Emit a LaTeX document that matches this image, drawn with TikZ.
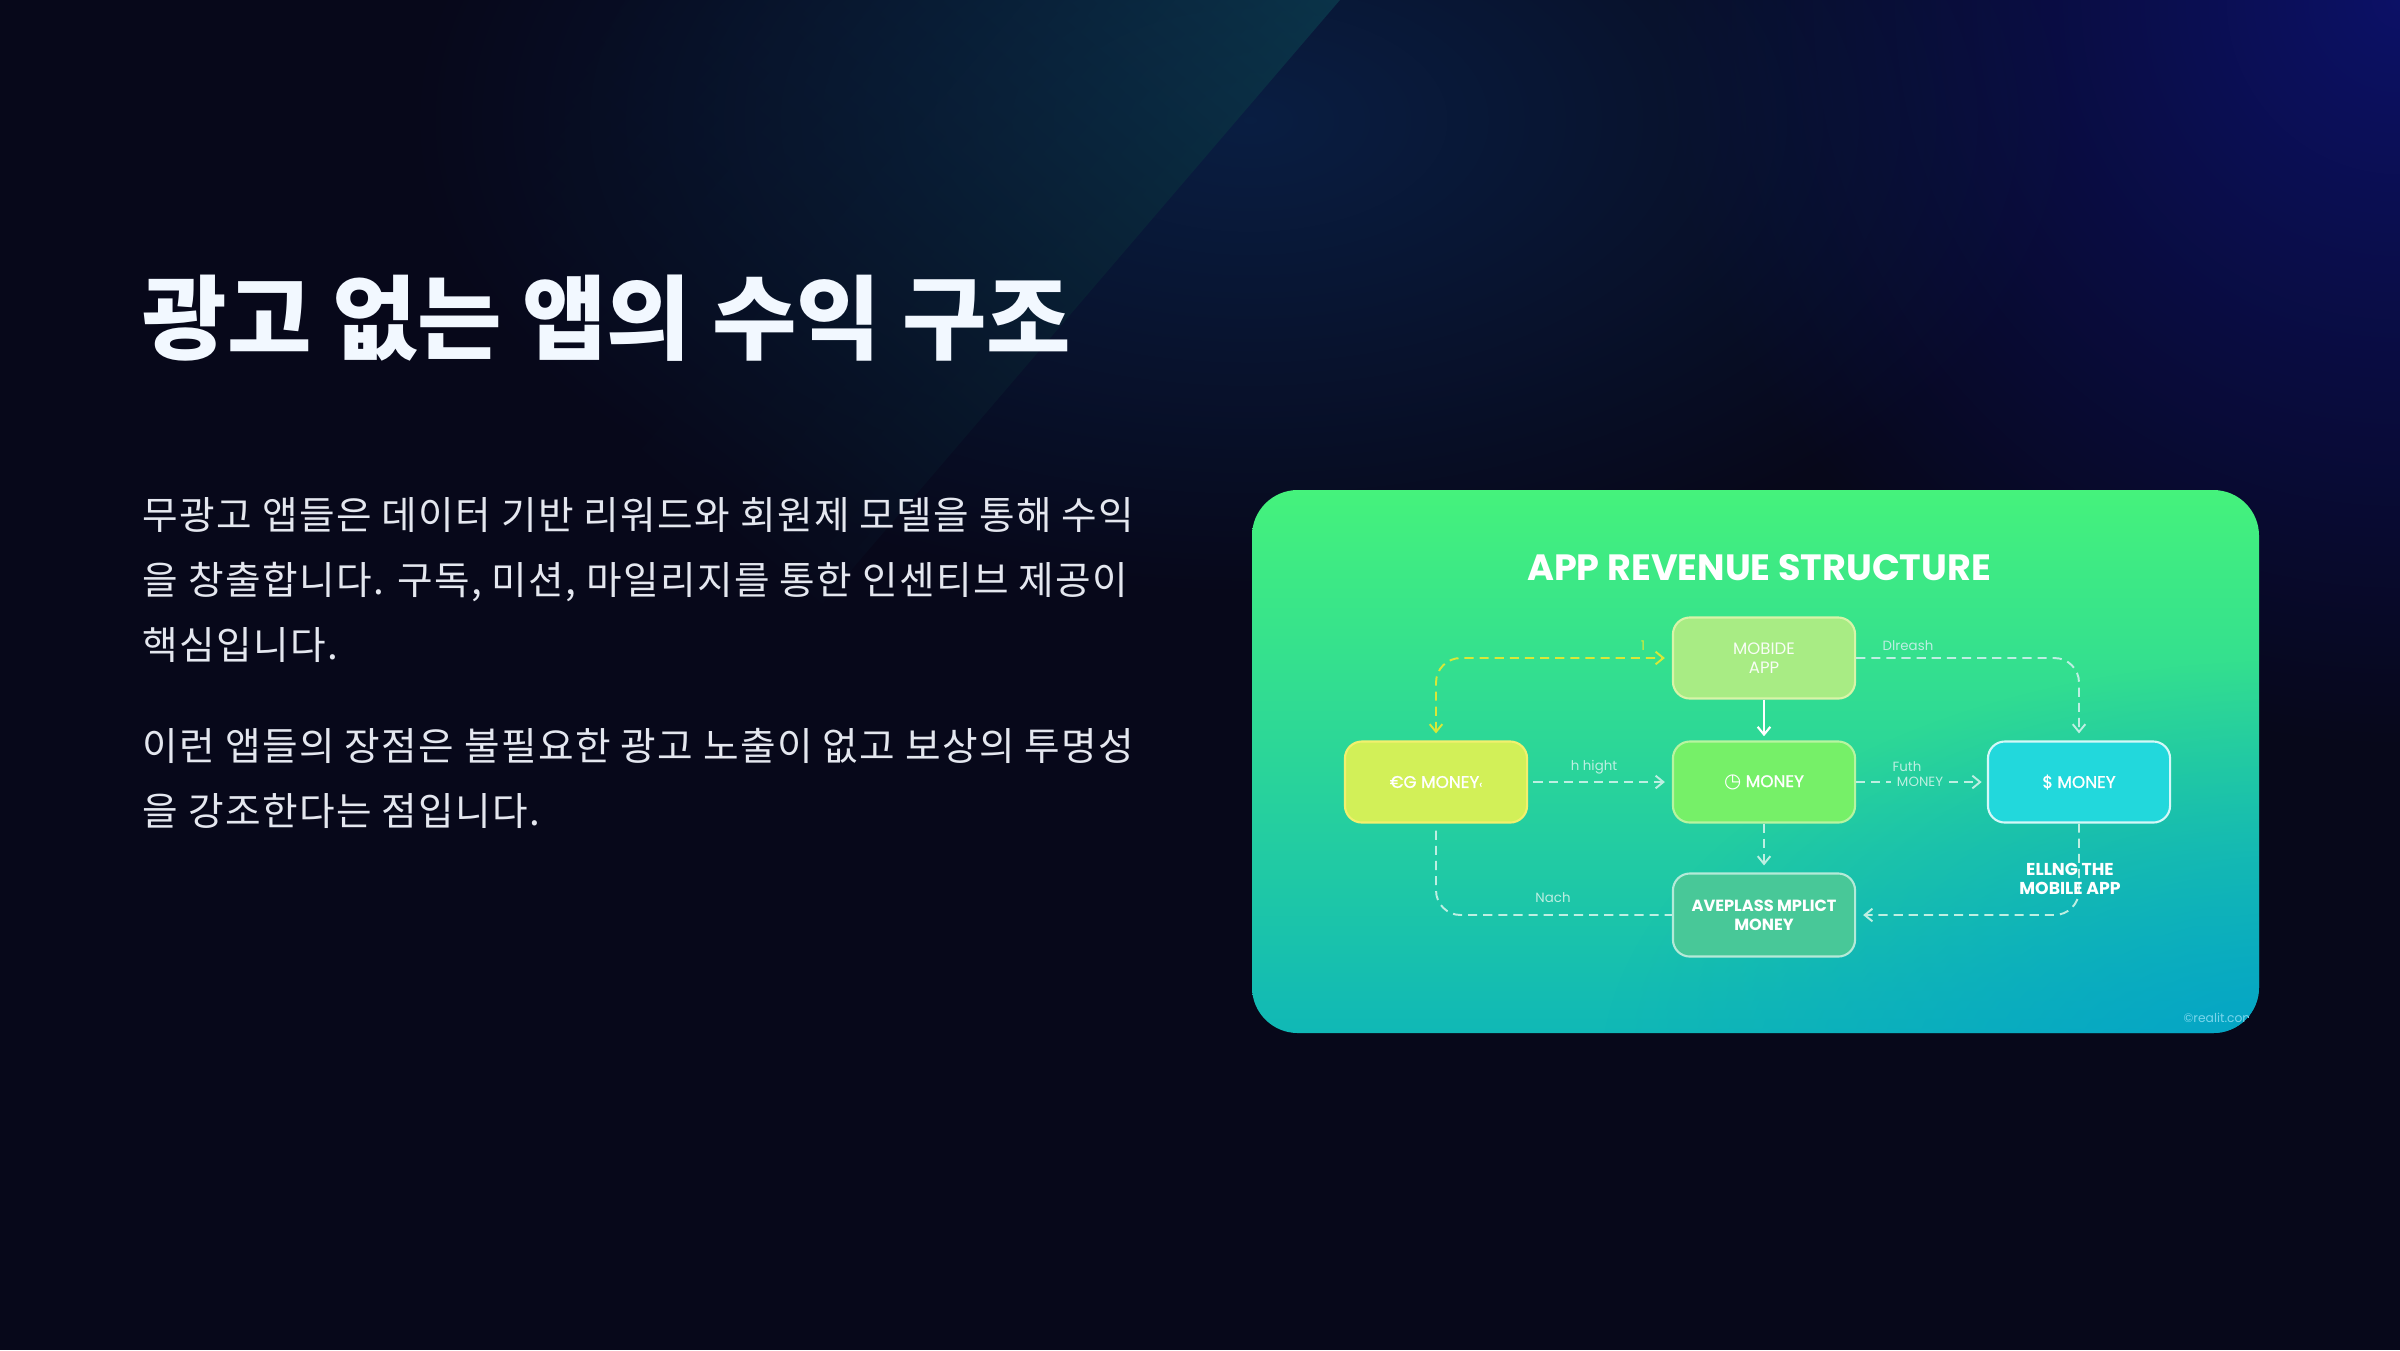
\documentclass[tikz,border=0pt]{standalone}
\usepackage{fontspec}
\newfontfamily\krbody{Noto Sans CJK KR}[LetterSpace=3.5]
\newfontfamily\krtitle{Noto Sans CJK KR}
\newfontfamily\pop{Poppins}
\newfontfamily\popm{Poppins}[FakeBold=1.2]
\newfontfamily\djv{DejaVu Sans}
\usetikzlibrary{arrows.meta,fadings}
\definecolor{bgc}{HTML}{07081A}
\definecolor{beamc}{HTML}{0E5468}
\definecolor{beamlow}{HTML}{0C3150}
\definecolor{hazec}{HTML}{0B2A58}
\definecolor{trc}{HTML}{0F1690}
\definecolor{titlec}{HTML}{F2F8FF}
\definecolor{bodyc}{HTML}{E4E7EF}
\definecolor{ptop}{HTML}{45F27C}
\definecolor{pmid}{HTML}{2EE29C}
\definecolor{pbot}{HTML}{10B8B6}
\definecolor{plr}{HTML}{02A0CA}
\definecolor{mobf}{HTML}{A8EC84}
\definecolor{mobd}{HTML}{D8F4A8}
\definecolor{egf}{HTML}{D2F058}
\definecolor{egd}{HTML}{F2F06E}
\definecolor{monf}{HTML}{76F068}
\definecolor{mond}{HTML}{B8F4A0}
\definecolor{dolf}{HTML}{22D8DC}
\definecolor{dold}{HTML}{D4F8F8}
\definecolor{avef}{HTML}{48C898}
\definecolor{aved}{HTML}{B4EAD8}
\definecolor{ylw}{HTML}{D8E838}
\definecolor{mint}{HTML}{BDEFE2}
\definecolor{wmk}{HTML}{7AD6EC}
\tikzfading[name=beamfade, left color=transparent!100, right color=transparent!15]
\tikzfading[name=glowfade, inner color=transparent!35, outer color=transparent!100]
\tikzfading[name=cornerfade, inner color=transparent!10, outer color=transparent!100]
\tikzset{
  box/.style={rounded corners=4.8pt, minimum width=1.82cm, minimum height=0.81cm,
    line width=0.6pt, inner sep=1pt, align=center, text=white,
    font=\popm\fontsize{4.8}{5.4}\selectfont},
  tip/.tip={Straight Barb[length=2.2pt,width=3.6pt]},
  dsh/.style={line width=0.55pt, dash pattern=on 2.6pt off 1.7pt},
  lbl/.style={inner sep=0.5pt, font=\pop\fontsize{3.8}{4.5}\selectfont, text=mint},
  bodyline/.style={anchor=base west, inner sep=0, text=bodyc,
    font=\krbody\fontsize{11}{18.5}\selectfont}
}
\begin{document}
\begin{tikzpicture}[x=0.01cm,y=-0.01cm]
\useasboundingbox (0,0) rectangle (2400,1350);
% background
\fill[bgc] (0,0) rectangle (2400,1350);
\fill[trc, path fading=glowfade] (2400,0) circle (750);
\fill[hazec, path fading=glowfade] (1250,120) ellipse (850 and 480);
\begin{scope}[transform canvas={rotate around={-40.6:(1340,0)}}]
\shade[top color=beamc, middle color=beamlow, bottom color=bgc, path fading=beamfade]
  (760,-450) rectangle (1340,820);
\end{scope}
% title and text
\node[anchor=base west, inner sep=0, text=titlec,
  font=\krtitle\bfseries\fontsize{26.1}{30}\selectfont] (title) at (142,352) {광고 없는 앱의 수익 구조};
\node[bodyline] (l1) at (142,529) {무광고 앱들은 데이터 기반 리워드와 회원제 모델을 통해 수익};
\node[bodyline] (l2) at (142,594) {을 창출합니다. 구독, 미션, 마일리지를 통한 인센티브 제공이};
\node[bodyline] (l3) at (142,659) {핵심입니다.};
\node[bodyline] (l4) at (142,760) {이런 앱들의 장점은 불필요한 광고 노출이 없고 보상의 투명성};
\node[bodyline] (l5) at (142,825) {을 강조한다는 점입니다.};
% panel
\shade[top color=ptop, middle color=pmid, bottom color=pbot, rounded corners=13pt]
  (1252,490) rectangle (2259,1033);
\begin{scope}
\clip[rounded corners=13pt] (1252,490) rectangle (2259,1033);
\fill[plr, path fading=cornerfade] (2300,1080) ellipse (700 and 420);
\node[anchor=west, inner sep=0, text=wmk, font=\pop\fontsize{3.5}{4}\selectfont] (wm) at (2183,1018) {©realit.com};
\end{scope}
\node[inner sep=0, text=white, font=\pop\bfseries\fontsize{10.4}{12}\selectfont] (ptitle) at (1759,568) {APP REVENUE STRUCTURE};
% nodes
\node[box, fill=mobf, draw=mobd, font=\pop\fontsize{4.7}{5.4}\selectfont, text=white!92!mobf] (mob) at (1764,658) {MOBIDE\\APP};
\node[box, fill=egf, draw=egd] (eg) at (1436,782) {€G MONEY{\fontsize{3}{3}\selectfont‹}};
\node[box, fill=monf, draw=mond] (mon) at (1764,782) {{\djv\fontsize{5.6}{5}\selectfont ◷} MONEY};
\node[box, fill=dolf, draw=dold] (dol) at (2079,782) {\$ MONEY};
\node[box, fill=avef, draw=aved, minimum height=0.83cm, font=\pop\bfseries\fontsize{4.6}{5.4}\selectfont] (ave) at (1764,915) {AVEPLASS MPLICT\\MONEY};
% labels
\node[lbl, text=ylw] (one) at (1643,646) {1};
\node[lbl] (dlr) at (1908,646) {Dlreash};
\node[lbl] (hh) at (1594,767) {h hight};
\node[lbl] (futh) at (1907,767) {Futh};
\node[lbl, inner sep=1.5pt] (futhm) at (1920,782) {MONEY};
\node[lbl] (nach) at (1553,898) {Nach};
% connectors
\draw[ylw, dsh, tip-tip, rounded corners=7pt, shorten <=2pt, shorten >=2pt] (eg.north) |- (mob.west);
\draw[mint, dsh, -tip, rounded corners=7pt, shorten >=2pt] (mob.east) -| (dol.north);
\draw[white, line width=0.6pt, -tip, shorten >=1.2pt] (mob) -- (mon);
\draw[mint, dsh, -tip, shorten <=1.5pt, shorten >=2pt] (eg) -- (mon);
\draw[mint, dsh] (mon.east) -- (futhm.west);
\draw[mint, dsh, -tip, shorten >=1.5pt] (futhm.east) -- (dol.west);
\draw[mint, dsh, -tip, shorten >=2pt] (mon) -- (ave);
\draw[mint, dsh, -tip, rounded corners=7pt, shorten >=2pt] (dol.south) |- (ave.east);
\draw[mint, dsh, rounded corners=7pt, shorten <=2pt] (eg.south) |- (ave.west);
\node[inner sep=0, align=center, text=white, font=\pop\bfseries\fontsize{4.9}{5.6}\selectfont] (ellng) at (2070,879) {ELLNG THE\\MOBILE APP};
\end{tikzpicture}
\end{document}
